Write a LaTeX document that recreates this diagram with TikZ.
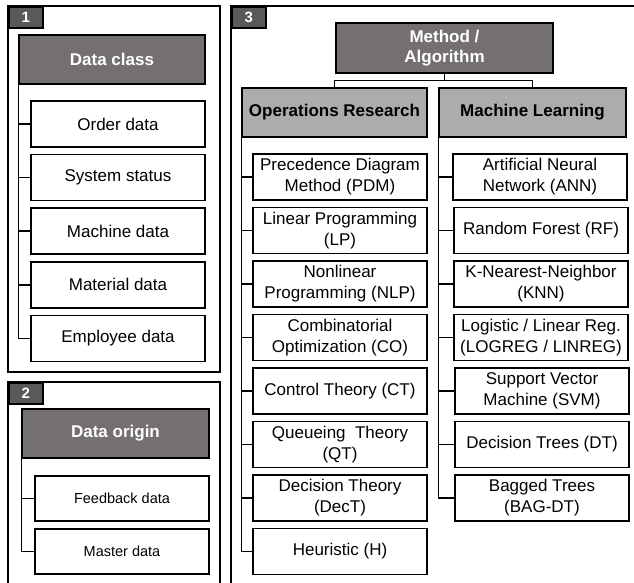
\documentclass[tikz,border=0pt]{standalone}
\usepackage{fontspec}
\setmainfont{Liberation Sans}
\definecolor{darkhead}{HTML}{747070}
\definecolor{tabgray}{HTML}{595959}
\definecolor{lighthead}{HTML}{AEABAB}
\begin{document}
\begin{tikzpicture}[x=1pt,y=-1pt,
  panel/.style={draw, line width=2.2pt},
  tabbox/.style={draw, line width=1.6pt, fill=tabgray, text=white, font=\fontsize{15}{17}\selectfont\bfseries, inner sep=0pt, minimum width=34pt, minimum height=21pt, anchor=north west},
  dhead/.style={draw, line width=1.5pt, fill=darkhead, text=white, font=\fontsize{17}{20}\selectfont\bfseries, align=center, inner sep=0pt, minimum height=49pt},
  lhead/.style={draw, line width=1.5pt, fill=lighthead, text=black, font=\fontsize{17}{20}\selectfont\bfseries, align=center, inner sep=0pt, minimum height=49pt, minimum width=186pt},
  itembox/.style={draw, line width=1.5pt, fill=white, align=center, inner sep=0pt, minimum width=174pt, minimum height=46pt, font=\fontsize{17}{21}\selectfont},
  smallitem/.style={itembox, font=\fontsize{14.5}{17}\selectfont, minimum height=45pt},
  conn/.style={line width=1.5pt}]
\useasboundingbox (0,0) rectangle (634,583);
\fill[white] (0,0) rectangle (634,583);

% Panel 1
\draw[panel] (8,6) rectangle (220,372);
\node[tabbox] (t1) at (8,6) {1};
\node[dhead, minimum width=186pt] (dc) at (112,59.5) {Data class};
\node[itembox] (d1) at (118,124) {Order data};
\node[itembox] (d2) at (118,177.6) {System status};
\node[itembox] (d3) at (118,231.2) {Machine data};
\node[itembox] (d4) at (118,284.8) {Material data};
\node[itembox] (d5) at (118,338.4) {Employee data};
\draw[conn] (dc.south west) |- (d5.west);
\foreach \n in {d1,d2,d3,d4} \draw[conn] (dc.south west |- \n.west) -- (\n.west);

% Panel 2
\draw[panel] (8,382) rectangle (220,620);
\node[tabbox] (t2) at (8,382) {2};
\node[dhead, minimum width=187pt] (do) at (115.5,433.5) {Data origin};
\node[smallitem] (o1) at (122,498.5) {Feedback data};
\node[smallitem] (o2) at (122,551.5) {Master data};
\draw[conn] (do.south west) |- (o2.west);
\draw[conn] (do.south west |- o1.west) -- (o1.west);

% Panel 3
\draw[panel] (231,6) rectangle (660,620);
\node[tabbox] (t3) at (231,6) {3};
\node[dhead, minimum width=217pt, minimum height=50pt] (ma) at (444.5,48) {Method /\\Algorithm};
\node[lhead, minimum width=185pt] (or) at (334.5,112.5) {Operations Research};
\node[lhead, minimum width=187pt] (ml) at (532.5,112.5) {Machine Learning};
\draw[conn] (ma.south) -- ++(0,7) coordinate (mj);
\draw[conn] (mj) -| (or.north);
\draw[conn] (mj) -| (ml.north);

% OR items
\node[itembox] (r1) at (340,177) {Precedence Diagram\\Method (PDM)};
\node[itembox] (r2) at (340,230.5) {Linear Programming\\(LP)};
\node[itembox] (r3) at (340,284) {Nonlinear\\Programming (NLP)};
\node[itembox] (r4) at (340,337.5) {Combinatorial\\Optimization (CO)};
\node[itembox] (r5) at (340,391) {Control Theory (CT)};
\node[itembox] (r6) at (340,444.5) {Queueing~ Theory\\(QT)};
\node[itembox] (r7) at (340,498) {Decision Theory\\(DecT)};
\node[itembox] (r8) at (340,551.5) {Heuristic (H)};
\draw[conn] (or.south west) |- (r8.west);
\foreach \n in {r1,r2,r3,r4,r5,r6,r7} \draw[conn] (or.south west |- \n.west) -- (\n.west);

% ML items
\node[itembox] (m1) at (540,177) {Artificial Neural\\Network (ANN)};
\node[itembox] (m2) at (541,230.5) {Random Forest (RF)};
\node[itembox] (m3) at (541,284) {K-Nearest-Neighbor\\(KNN)};
\node[itembox] (m4) at (541,337.5) {Logistic / Linear Reg.\\(LOGREG / LINREG)};
\node[itembox] (m5) at (542,391) {Support Vector\\Machine (SVM)};
\node[itembox] (m6) at (542,444.5) {Decision Trees (DT)};
\node[itembox] (m7) at (542,498) {Bagged Trees\\(BAG-DT)};
\draw[conn] (ml.south west) |- (m7.west);
\foreach \n in {m1,m2,m3,m4,m5,m6} \draw[conn] (ml.south west |- \n.west) -- (\n.west);
\end{tikzpicture}
\end{document}
